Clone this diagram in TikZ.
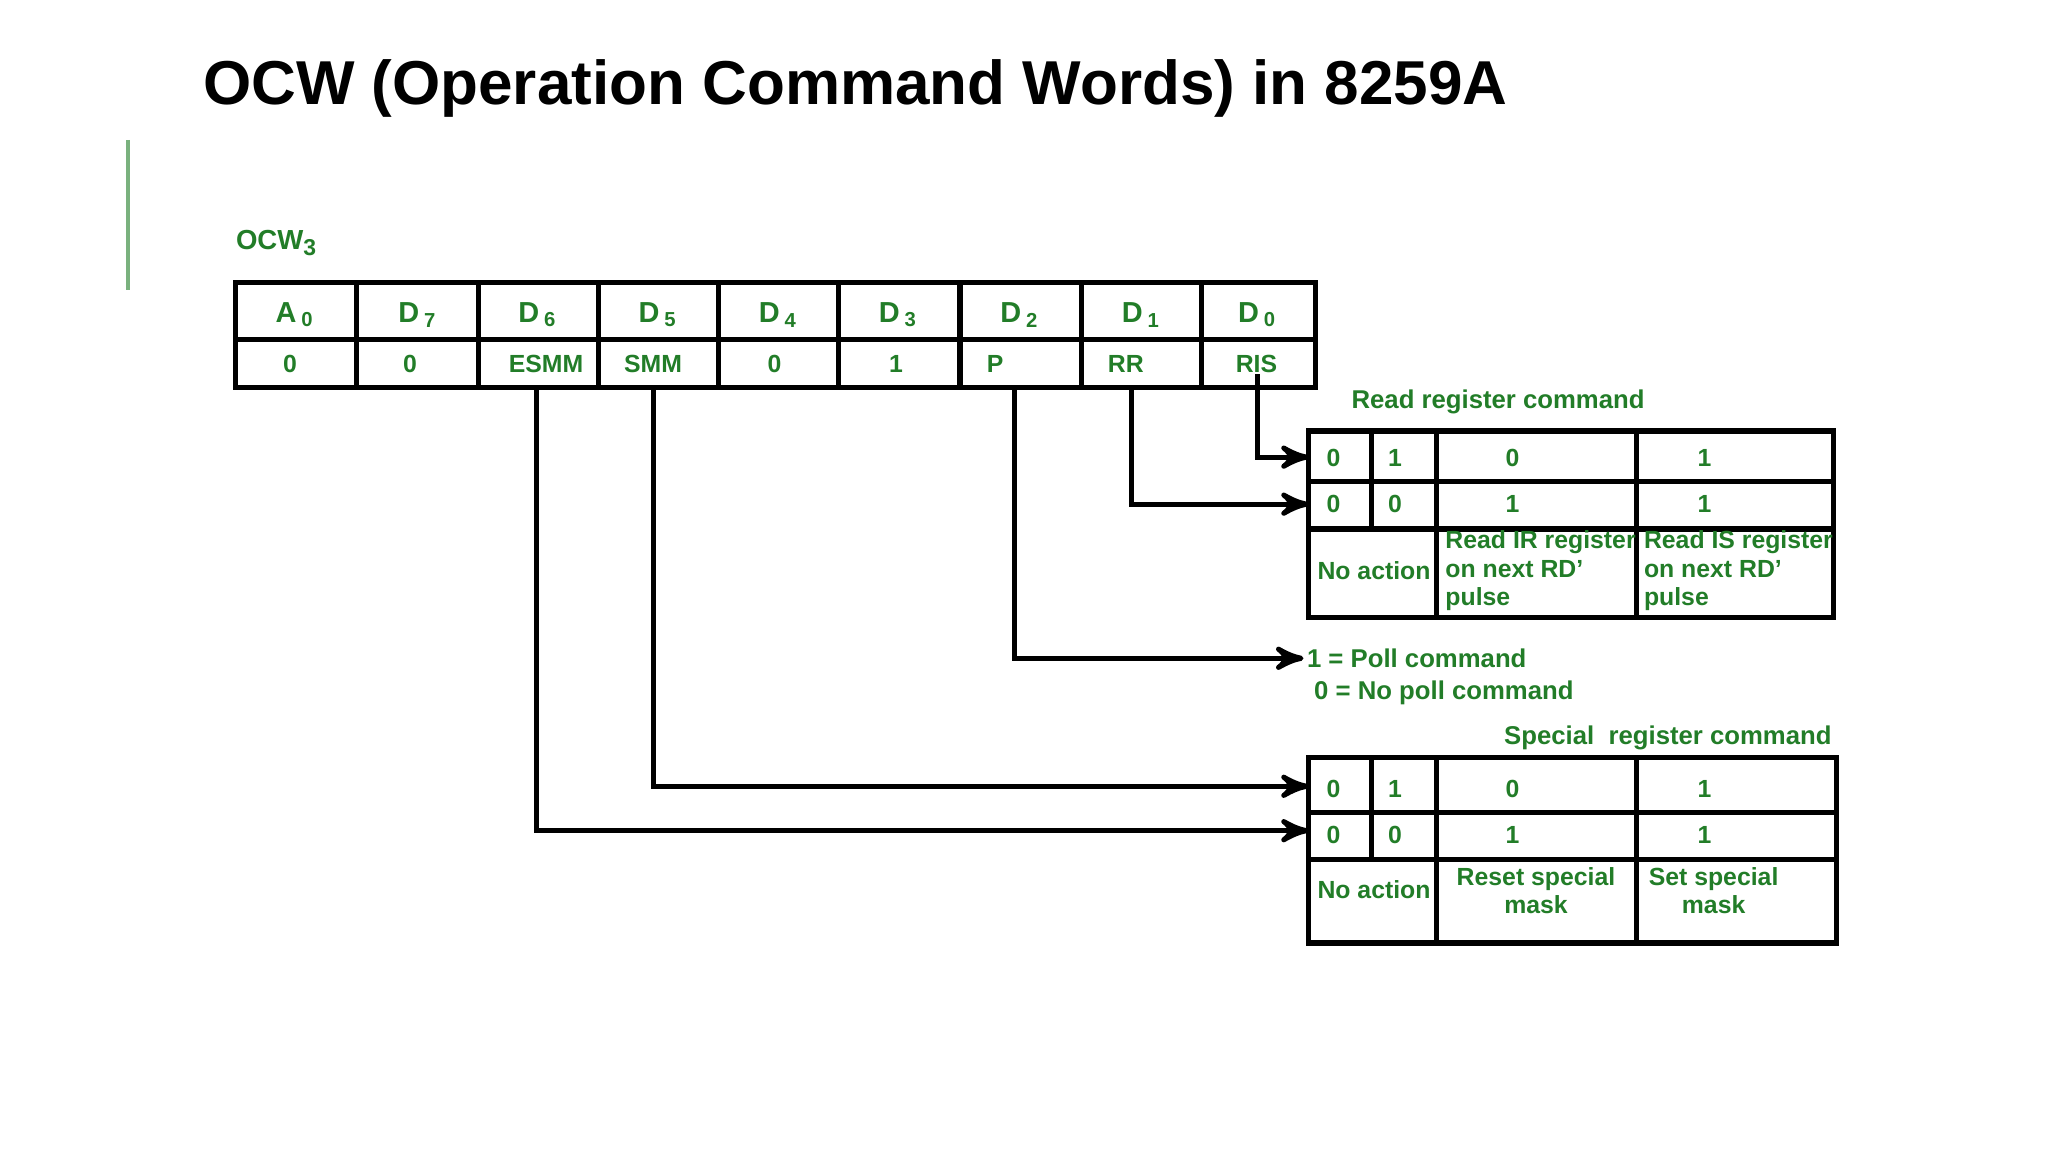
\documentclass[tikz,border=0pt]{standalone}
\usepackage{fontspec}
\setmainfont{Liberation Sans}
\usetikzlibrary{arrows}
\usetikzlibrary{positioning}
\definecolor{ocwgreen}{RGB}{34,125,40}
\begin{document}
\begin{tikzpicture}[x=0.01cm,y=-0.01cm,>=stealth',
	cell/.style={font=\fontsize{5.4}{6.2}\selectfont\bfseries,text=ocwgreen,inner sep=0pt},
	grid line/.style={line width=1.1pt},
	wire/.style={line width=1.1pt,->}]
	\useasboundingbox (0,0) rectangle (1568,882);

	% title and side bar
	\node[anchor=west,font=\fontsize{13.5}{15}\selectfont\bfseries] (title) at (143,68) {OCW (Operation Command Words) in 8259A};
	\draw[ocwgreen!60,line width=0.9pt] (98,107) -- (98,222);
	\node[cell,anchor=west,font=\fontsize{6}{7}\selectfont\bfseries] (ocw) at (180,186) {OCW$_{\mathbf 3}$};

	% main register
	\draw[grid line] (180,216) rectangle (1007,297) (180,260) -- (1007,260);
	\foreach \x in {273,366,458,550,642,735,828,920}
		\draw[grid line] (\x,216) -- (\x,297);
	\foreach \x/\h/\v/\n in {226/A/0/a0,320/D/7/d7,412/D/6/d6,504/D/5/d5,596/D/4/d4,688/D/3/d3,781/D/2/d2,874/D/1/d1,963/D/0/d0}
		\node[cell,font=\fontsize{6.3}{7}\selectfont\bfseries] (\n) at (\x,241) {\h\,$_{\mathbf\v}$};
	\foreach \x/\v/\n in {222/0/va0,314/0/vd7,418/ESMM/esmm,500/SMM/smm,593/0/vd4,686/1/vd3,762/P/p,862/RR/rr,962/RIS/ris}
		\node[cell] (\n) at (\x,279) {\v};

	% read register table
	\node[cell,font=\fontsize{5.6}{6.5}\selectfont\bfseries] (readlbl) at (1147,308) {Read register command};
	\draw[grid line] (1002,330) rectangle (1404,473) (1002,369) -- (1404,369) (1002,405) -- (1404,405);
	\draw[grid line] (1050,330) -- (1050,405) (1100,330) -- (1100,473) (1253,330) -- (1253,473);
	\node[cell] (r1a) at (1021,351) {0}; \node[cell] (r1b) at (1068,351) {1};
	\node[cell] (r1c) at (1158,351) {0}; \node[cell] (r1d) at (1305,351) {1};
	\node[cell] (r2a) at (1021,386) {0}; \node[cell] (r2b) at (1068,386) {0};
	\node[cell] (r2c) at (1158,386) {1}; \node[cell] (r2d) at (1305,386) {1};
	\node[cell] (rna) at (1052,437) {No action};
	\node[cell,anchor=west,align=left] (rir) at (1106,437) {Read IR register\\on next RD'\\pulse};
	\node[cell,anchor=west,align=left] (ris2) at (1258,437) {Read IS register\\on next RD'\\pulse};
	\coordinate (rin1) at (1002,350);
	\coordinate (rin2) at (1002,386);

	% poll
	\node[cell,anchor=west,align=left,font=\fontsize{5.6}{7}\selectfont\bfseries] (poll) at (1000,518) {1 = Poll command\\\ 0 = No poll command};
	\coordinate (pin) at (998,504);

	% special mask table
	\node[cell,font=\fontsize{5.6}{6.5}\selectfont\bfseries] (speclbl) at (1277,565) {Special\ \ register command};
	\draw[grid line] (1002,580) rectangle (1406,722) (1002,622) -- (1406,622) (1002,658) -- (1406,658);
	\draw[grid line] (1050,580) -- (1050,658) (1100,580) -- (1100,722) (1253,580) -- (1253,722);
	\node[cell] (s1a) at (1021,604) {0}; \node[cell] (s1b) at (1068,604) {1};
	\node[cell] (s1c) at (1158,604) {0}; \node[cell] (s1d) at (1305,604) {1};
	\node[cell] (s2a) at (1021,639) {0}; \node[cell] (s2b) at (1068,639) {0};
	\node[cell] (s2c) at (1158,639) {1}; \node[cell] (s2d) at (1305,639) {1};
	\node[cell] (sna) at (1052,681) {No action};
	\node[cell,align=center] (srs) at (1176,682) {Reset special\\mask};
	\node[cell,align=center] (sss) at (1312,682) {Set special\\mask};
	\coordinate (sin1) at (1002,602);
	\coordinate (sin2) at (1002,636);

	% connectors
	\draw[wire] (ris.south -| 963,297) |- (rin1);
	\draw[wire] (866,297) |- (rin2);
	\draw[wire] (777,297) |- (pin);
	\draw[wire] (500,297) |- (sin1);
	\draw[wire] (411,297) |- (sin2);
\end{tikzpicture}
\end{document}
